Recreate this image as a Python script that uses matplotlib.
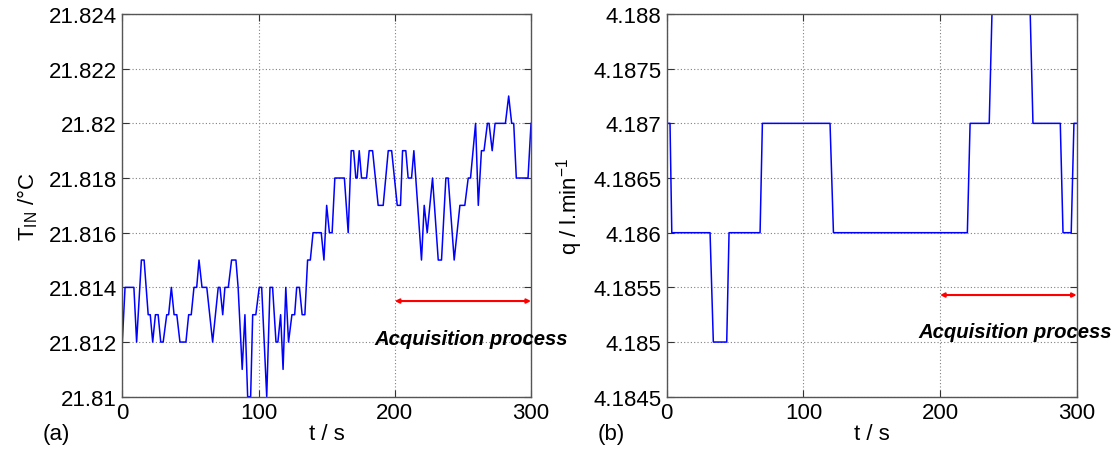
import matplotlib
matplotlib.use("Agg")
import matplotlib.pyplot as plt
from matplotlib.ticker import FuncFormatter

plt.rcParams['font.family'] = ['Liberation Sans', 'DejaVu Sans']
plt.rcParams['mathtext.default'] = 'regular'

# ---- panel (a): inlet temperature ----
t_a = [0, 2, 8.5, 10.5, 14, 16, 19, 20.5, 22.3, 24.3, 26.3, 28.2, 30, 32.6, 34, 36,
       38, 40, 42.3, 46.7, 48.7, 50.6, 52.6, 54.6, 56.3, 58.5, 62, 66.3, 70.4, 71.7,
       73.7, 75.3, 77.8, 80.2, 83.4, 85, 88, 90, 92, 94.2, 95.7, 98, 100.5, 102.3,
       106, 108.4, 110.3, 112.8, 114.2, 116.2, 118, 120, 122, 124.5, 126.5, 128, 130,
       132, 134, 136, 138, 140, 146, 148, 150, 152, 154, 156, 163, 165.8, 168, 169.8,
       171.4, 172.4, 173.9, 175.6, 179.3, 181.2, 183.7, 187.8, 191.5, 195.2, 197.7,
       201.8, 204.2, 205.7, 208.1, 209.8, 212.3, 214, 219.6, 221.6, 223.8, 227.7,
       231.9, 234.3, 237.5, 239.2, 243.6, 247.8, 251.4, 253.9, 255.6, 259.3, 261.3,
       263.6, 265.5, 268, 269.2, 271.5, 273.6, 281.2, 283.6, 285.8, 287.3, 289.2,
       297.8, 300]
T_a = [21.812, 21.814, 21.814, 21.812, 21.815, 21.815, 21.813, 21.813, 21.812, 21.813,
       21.813, 21.812, 21.812, 21.813, 21.813, 21.814, 21.813, 21.813, 21.812, 21.812,
       21.813, 21.813, 21.814, 21.814, 21.815, 21.814, 21.814, 21.812, 21.814, 21.814,
       21.813, 21.814, 21.814, 21.815, 21.815, 21.814, 21.811, 21.813, 21.810, 21.810,
       21.813, 21.813, 21.814, 21.814, 21.810, 21.814, 21.814, 21.812, 21.812, 21.813,
       21.811, 21.814, 21.812, 21.813, 21.813, 21.814, 21.814, 21.813, 21.813, 21.815,
       21.815, 21.816, 21.816, 21.815, 21.817, 21.816, 21.816, 21.818, 21.818, 21.816,
       21.819, 21.819, 21.818, 21.818, 21.819, 21.818, 21.818, 21.819, 21.819, 21.817,
       21.817, 21.819, 21.819, 21.817, 21.817, 21.819, 21.819, 21.818, 21.818, 21.819,
       21.815, 21.817, 21.816, 21.818, 21.815, 21.815, 21.818, 21.818, 21.815, 21.817,
       21.817, 21.818, 21.818, 21.820, 21.817, 21.819, 21.819, 21.820, 21.820, 21.819,
       21.820, 21.820, 21.821, 21.820, 21.820, 21.818, 21.818, 21.820]

# ---- panel (b): flow rate ----
t_b = [0, 2.4, 3.7, 31.7, 34.1, 43.9, 45.6, 68.3, 70, 119.5, 122, 220, 222, 236, 238,
       266, 268, 288, 290, 296, 298, 300]
q_b = [4.187, 4.187, 4.186, 4.186, 4.185, 4.185, 4.186, 4.186, 4.187, 4.187, 4.186,
       4.186, 4.187, 4.187, 4.188, 4.188, 4.187, 4.187, 4.186, 4.186, 4.187, 4.187]

acq_t = [200, 300]
acq_a = 21.8135
acq_b = 4.18543

yticks_a = [21.81, 21.812, 21.814, 21.816, 21.818, 21.82, 21.822, 21.824]
yticks_b = [4.1845, 4.185, 4.1855, 4.186, 4.1865, 4.187, 4.1875, 4.188]
xticks = [0, 100, 200, 300]

FS = 16

fig = plt.figure(figsize=(11.17, 4.52), dpi=100)
ax1 = fig.add_axes([0.1095, 0.1201, 0.3659, 0.8467])
ax2 = fig.add_axes([0.5969, 0.1201, 0.3670, 0.8467])

fmt = FuncFormatter(lambda v, p: ('%.4f' % v).rstrip('0').rstrip('.'))

for ax in (ax1, ax2):
    ax.set_xlim(0, 300)
    ax.set_xticks(xticks)
    ax.grid(True, color='#808080', linestyle=(0, (1, 2)), linewidth=0.8)
    ax.tick_params(direction='in', length=5, width=0.8, labelsize=FS,
                   top=True, right=True, color='#333333', pad=4)
    for s in ax.spines.values():
        s.set_color('#555555')
        s.set_linewidth(1.0)
    ax.yaxis.set_major_formatter(fmt)

ax1.plot(t_a, T_a, color='#0000ff', linewidth=1.1)
ax1.set_ylim(21.81, 21.824)
ax1.set_yticks(yticks_a)
ax1.annotate('', xy=(acq_t[0], acq_a), xytext=(acq_t[1], acq_a),
             arrowprops=dict(arrowstyle='<|-|>', color='red', lw=1.5,
                             shrinkA=0, shrinkB=0, mutation_scale=6))
ax1.text(0.617, 0.153, 'Acquisition process', transform=ax1.transAxes,
         fontsize=14.6, fontweight='bold', fontstyle='italic', ha='left', va='center',
         clip_on=False)
ax1.set_xlabel('t / s', fontsize=FS, labelpad=0)
ax1.set_ylabel(r'T$_{IN}$ /°C', fontsize=FS, labelpad=6)
fig.text(0.038, 0.038, '(a)', fontsize=FS, ha='left', va='center')

ax2.plot(t_b, q_b, color='#0000ff', linewidth=1.1)
ax2.set_ylim(4.1845, 4.188)
ax2.set_yticks(yticks_b)
ax2.annotate('', xy=(acq_t[0], acq_b), xytext=(acq_t[1], acq_b),
             arrowprops=dict(arrowstyle='<|-|>', color='red', lw=1.5,
                             shrinkA=0, shrinkB=0, mutation_scale=6))
ax2.text(0.615, 0.17, 'Acquisition process', transform=ax2.transAxes,
         fontsize=14.6, fontweight='bold', fontstyle='italic', ha='left', va='center',
         clip_on=False)
ax2.set_xlabel('t / s', fontsize=FS, labelpad=0)
ax2.set_ylabel(r'q / l.min$^{-1}$', fontsize=FS, labelpad=6)
fig.text(0.535, 0.038, '(b)', fontsize=FS, ha='left', va='center')

fig.savefig('out.png', dpi=100)
